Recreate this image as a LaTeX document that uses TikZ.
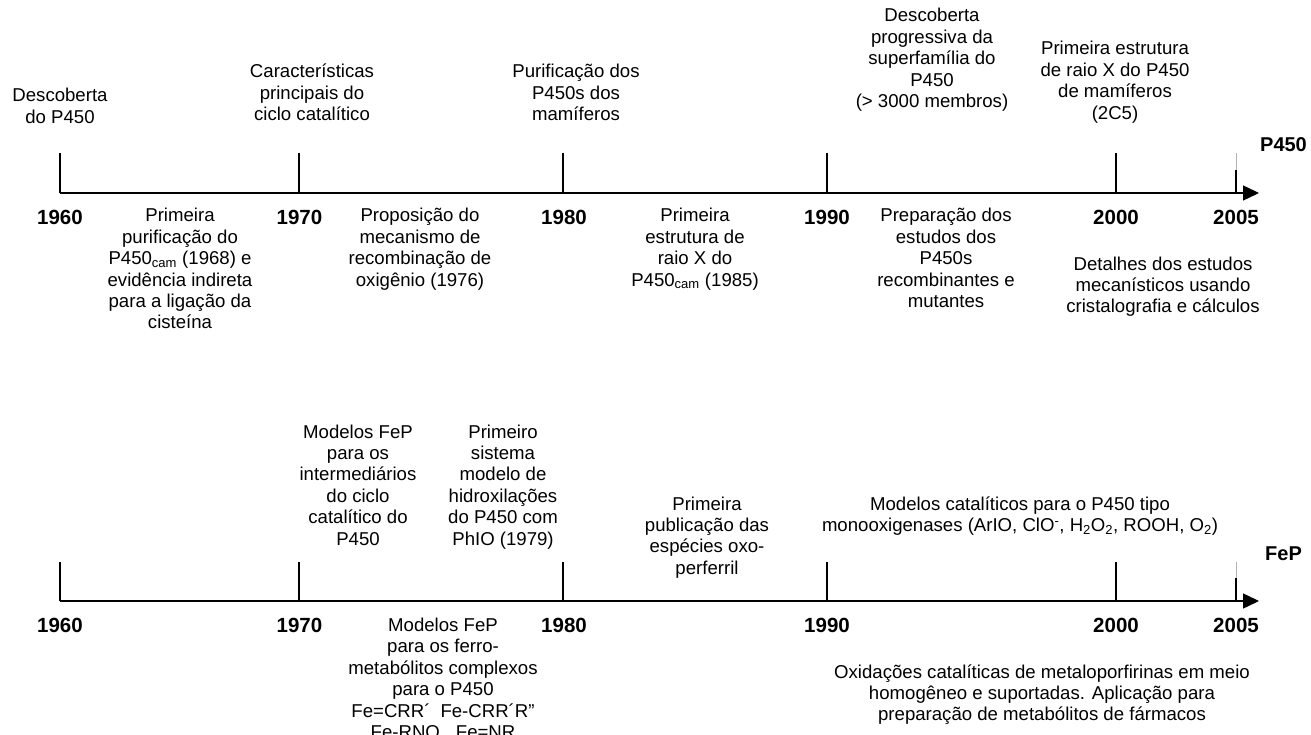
\documentclass[tikz,border=0pt]{standalone}
\usepackage{fontspec}
\setmainfont{Liberation Sans}
\usetikzlibrary{arrows.meta}
\newcommand\tb[1]{{\setlength\tabcolsep{0pt}\renewcommand\arraystretch{1}\begin{tabular}[t]{c}#1\end{tabular}}}
\begin{document}
\begin{tikzpicture}[x=1pt,y=-1pt,
  axisline/.style={line width=1.4pt,-{Triangle[length=16pt,width=15pt]}},
  tick/.style={line width=1.4pt},
  thintick/.style={line width=0.4pt,gray!60},
  ev/.style={anchor=base,inner sep=0pt,font=\fontsize{18.6}{21.4}\selectfont},
  yr/.style={anchor=base,inner sep=0pt,font=\fontsize{20.5}{24}\selectfont\bfseries},
  lab/.style={anchor=base,inner sep=0pt,font=\fontsize{20}{24}\selectfont\bfseries}]
\useasboundingbox (0,0) rectangle (1311,735);
% ---------------- P450 timeline ----------------
\coordinate (a0) at (60,193);
\coordinate (a1) at (1259,193);
\draw[axisline] (a0) -- (a1);
\foreach \x in {60,299,563,827,1116}{\draw[tick] (\x,153) -- (\x,193);}
\draw[thintick] (1236,153) -- (1236,170);
\draw[tick] (1236,170) -- (1236,193);
\node[lab] (lp) at (1283.5,152) {P450};
\node[yr] (y1) at (60,225) {1960};
\node[yr] (y2) at (299.5,225) {1970};
\node[yr] (y3) at (564,225) {1980};
\node[yr] (y4) at (827,225) {1990};
\node[yr] (y5) at (1116,225) {2000};
\node[yr] (y6) at (1236,225) {2005};
\node[ev] (t1) at (60,102) {\tb{Descoberta\\do P450}};
\node[ev] (t2) at (312,78) {\tb{Características\\principais do\\ciclo catalítico}};
\node[ev] (t3) at (576,78) {\tb{Purificação dos\\P450s dos\\mamíferos}};
\node[ev] (t4) at (932,22) {\tb{Descoberta\\progressiva da\\superfamília do\\P450\\(> 3000 membros)}};
\node[ev] (t5) at (1115,55) {\tb{Primeira estrutura\\de raio X do P450\\de mamíferos\\(2C5)}};
\node[ev] (b1) at (180,222) {\tb{Primeira\\purificação do\\P450\textsubscript{cam} (1968) e\\evidência indireta\\para a ligação da\\cisteína}};
\node[ev] (b2) at (420,222) {\tb{Proposição do\\mecanismo de\\recombinação de\\oxigênio (1976)}};
\node[ev] (b3) at (695,222) {\tb{Primeira\\estrutura de\\raio X do\\P450\textsubscript{cam} (1985)}};
\node[ev] (b4) at (946,222) {\tb{Preparação dos\\estudos dos\\P450s\\recombinantes e\\mutantes}};
\node[ev] (b5) at (1163,270) {\tb{Detalhes dos estudos\\mecanísticos usando\\cristalografia e cálculos}};
% ---------------- FeP timeline ----------------
\coordinate (c0) at (60,601);
\coordinate (c1) at (1259,601);
\draw[axisline] (c0) -- (c1);
\foreach \x in {60,299,563,827,1116}{\draw[tick] (\x,562) -- (\x,601);}
\draw[thintick] (1236,562) -- (1236,578);
\draw[tick] (1236,578) -- (1236,601);
\node[lab] (lf) at (1283.5,560) {FeP};
\node[yr] (z1) at (60,632.5) {1960};
\node[yr] (z2) at (299.5,632.5) {1970};
\node[yr] (z3) at (564,632.5) {1980};
\node[yr] (z4) at (827,632.5) {1990};
\node[yr] (z5) at (1116,632.5) {2000};
\node[yr] (z6) at (1236,632.5) {2005};
\node[ev] (u1) at (358,438) {\tb{Modelos FeP\\para os\\intermediários\\do ciclo\\catalítico do\\P450}};
\node[ev] (u2) at (503,438) {\tb{Primeiro\\sistema\\modelo de\\hidroxilações\\do P450 com\\PhIO (1979)}};
\node[ev] (u3) at (707,510) {\tb{Primeira\\publicação das\\espécies oxo-\\perferril}};
\node[ev] (u4) at (1020,510) {\tb{Modelos catalíticos para o P450 tipo\\monooxigenases (ArIO, ClO\textsuperscript{-}, H\textsubscript{2}O\textsubscript{2}, ROOH, O\textsubscript{2})}};
\node[ev] (d1) at (443,631.5) {\tb{Modelos FeP\\para os ferro-\\metabólitos complexos\\para o P450\\Fe=CRR´\hspace{10pt}Fe-CRR´R”\\Fe-RNO\hspace{16pt}Fe=NR}};
\node[ev] (d2) at (1042,678) {\tb{Oxidações catalíticas de metaloporfirinas em meio\\homogêneo e suportadas. Aplicação para\\preparação de metabólitos de fármacos}};
\end{tikzpicture}
\end{document}
